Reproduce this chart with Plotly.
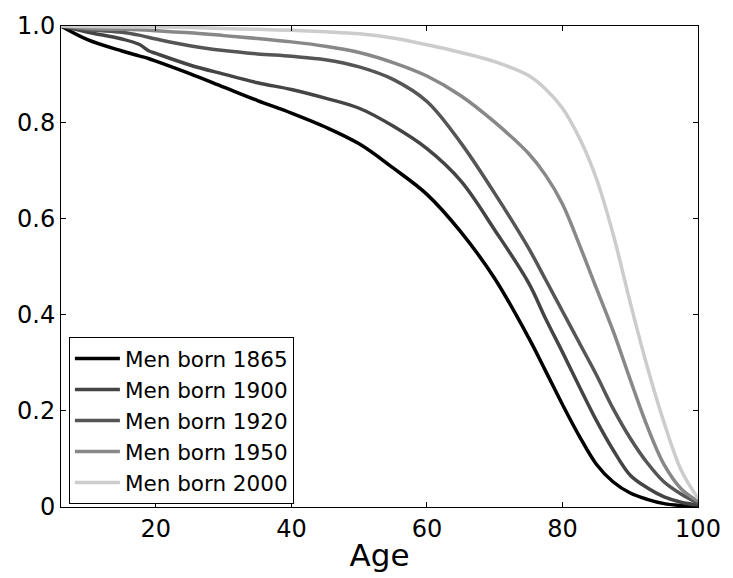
import plotly.graph_objects as go

ages = [6, 10, 15, 17.5, 19, 20, 25, 30, 35, 40, 45, 50, 55, 60, 65, 70, 75,
        77.5, 80, 82.5, 85, 87.5, 90, 92.5, 95, 97.5, 100]

men_1865 = [1.0, 0.971, 0.948, 0.938, 0.932, 0.927, 0.901, 0.873, 0.845, 0.819,
            0.790, 0.755, 0.705, 0.650, 0.572, 0.475, 0.352,
            0.283, 0.213, 0.147, 0.089, 0.052, 0.029, 0.016, 0.007, 0.003, 0.001]
men_1900 = [1.0, 0.987, 0.973, 0.962, 0.948, 0.943, 0.919, 0.900, 0.882, 0.868,
            0.850, 0.829, 0.792, 0.745, 0.678, 0.576, 0.466,
            0.392, 0.322, 0.250, 0.180, 0.118, 0.066, 0.040, 0.021, 0.010, 0.004]
men_1920 = [1.0, 0.992, 0.987, 0.981, 0.976, 0.973, 0.959, 0.949, 0.942, 0.937,
            0.930, 0.915, 0.889, 0.843, 0.757, 0.652, 0.538,
            0.473, 0.407, 0.341, 0.275, 0.204, 0.143, 0.092, 0.052, 0.027, 0.008]
men_1950 = [1.0, 0.995, 0.993, 0.992, 0.991, 0.990, 0.986, 0.980, 0.974, 0.967,
            0.958, 0.945, 0.924, 0.896, 0.855, 0.800, 0.735,
            0.690, 0.630, 0.545, 0.455, 0.365, 0.265, 0.168, 0.088, 0.038, 0.012]
men_2000 = [1.0, 0.999, 0.998, 0.998, 0.998, 0.998, 0.997, 0.995, 0.993, 0.991,
            0.988, 0.984, 0.975, 0.961, 0.945, 0.926, 0.897,
            0.869, 0.829, 0.767, 0.683, 0.566, 0.425, 0.292, 0.175, 0.077, 0.018]

series_names = ["Men born 1865", "Men born 1900", "Men born 1920",
                "Men born 1950", "Men born 2000"]
series_values = [men_1865, men_1900, men_1920, men_1950, men_2000]
series_colors = ["#000000", "#444444", "#555555", "#888888", "#cccccc"]

x_ticks = [20, 40, 60, 80, 100]
y_ticks = [0, 0.2, 0.4, 0.6, 0.8, 1.0]
y_tick_labels = ["0", "0.2", "0.4", "0.6", "0.8", "1.0"]

FONT = "DejaVu Sans"

fig = go.Figure()
for name, vals, col in zip(series_names, series_values, series_colors):
    fig.add_trace(go.Scatter(
        x=ages, y=vals, mode="lines", name=name,
        line=dict(color=col, width=3.5, shape="spline", smoothing=1.0),
    ))

axis_common = dict(
    showline=True, mirror="ticks", linecolor="black", linewidth=1,
    ticks="inside", ticklen=5, tickcolor="black", tickwidth=1,
    showgrid=False, zeroline=False,
    tickfont=dict(family=FONT, size=24, color="black"),
)

fig.update_layout(
    width=733, height=578,
    margin=dict(l=61, r=28, t=18, b=69),
    paper_bgcolor="white", plot_bgcolor="white",
    font=dict(family=FONT, color="black"),
    xaxis=dict(range=[6, 100], tickvals=x_ticks,
               title=dict(text="Age", font=dict(family=FONT, size=31, color="black"),
                          standoff=2),
               **axis_common),
    yaxis=dict(range=[0, 1], tickvals=y_ticks, ticktext=y_tick_labels,
               **axis_common),
    legend=dict(
        x=0.0124, y=0.006, xanchor="left", yanchor="bottom",
        bgcolor="white", bordercolor="black", borderwidth=1,
        font=dict(family=FONT, size=21.5, color="black"),
        tracegroupgap=0, itemwidth=45,
    ),
    showlegend=True,
)

fig.write_html("out.html")
